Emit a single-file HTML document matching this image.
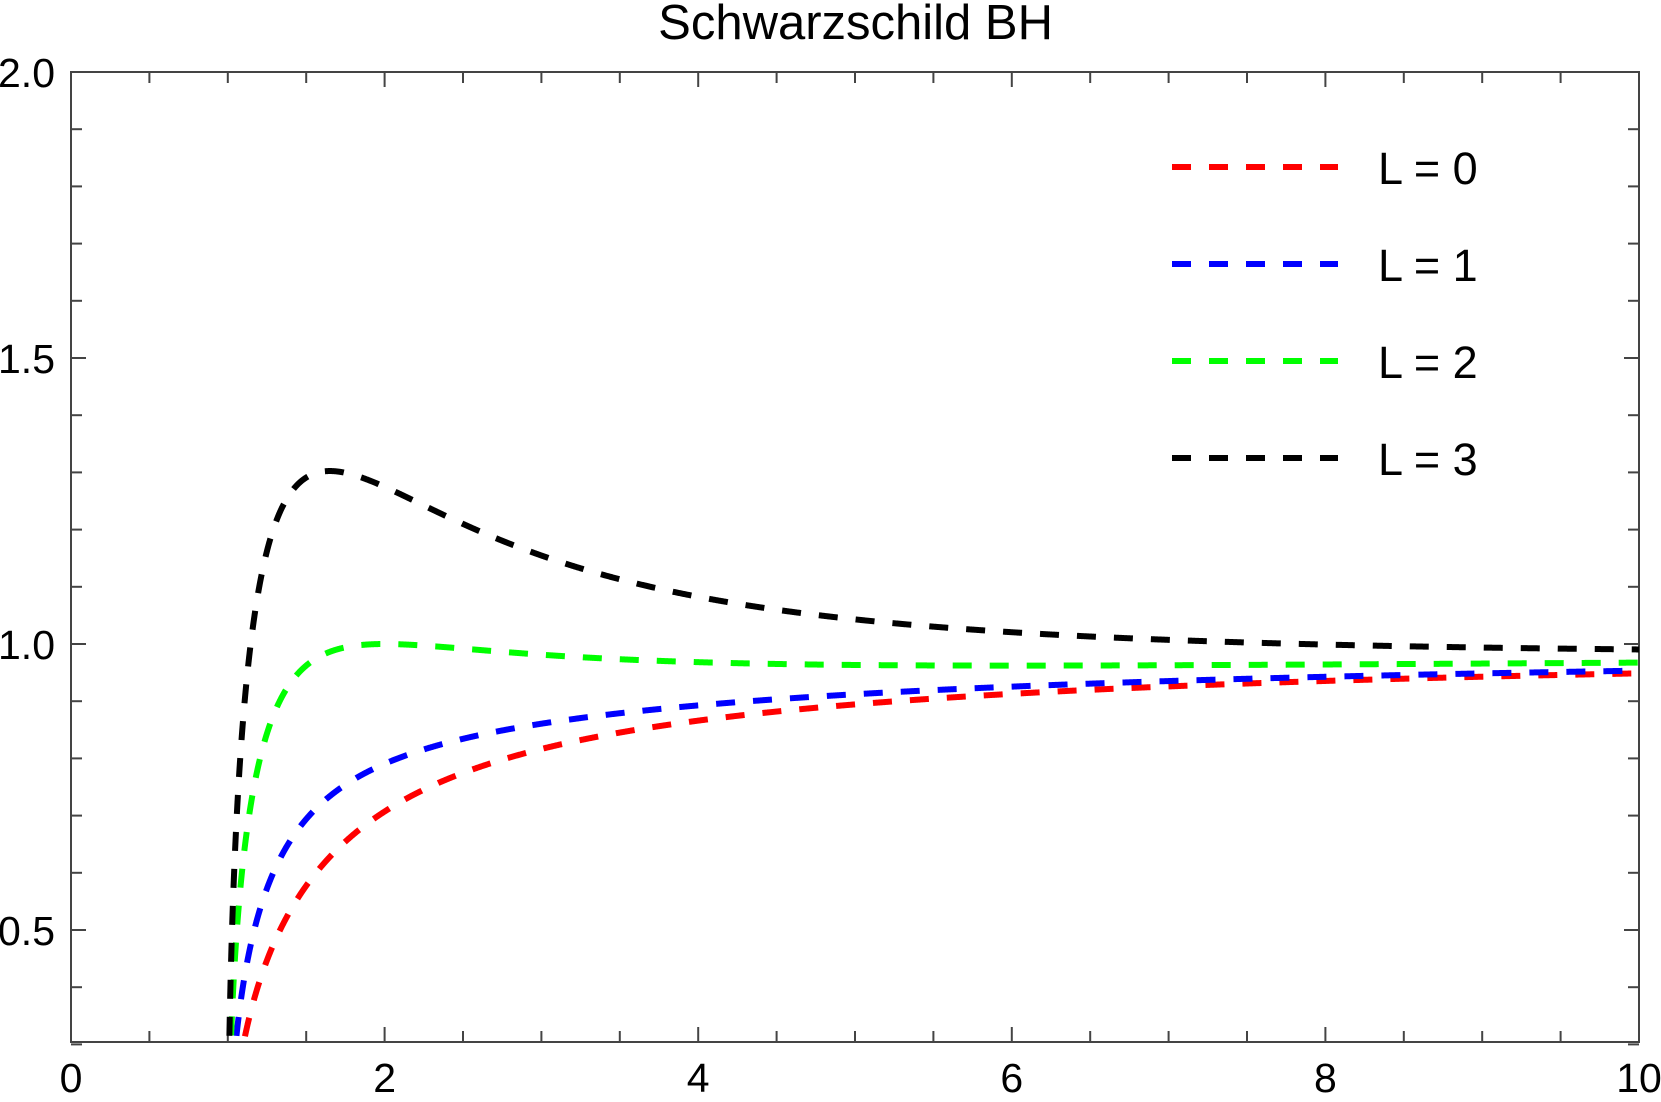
<!DOCTYPE html>
<html><head><meta charset="utf-8"><style>
html,body{margin:0;padding:0;background:#fff;}
svg text{font-family:"Liberation Sans",Arial,sans-serif;fill:#000;}
</style></head><body>
<svg id="s" width="1661" height="1097" xmlns="http://www.w3.org/2000/svg">
<defs><clipPath id="c"><rect x="71" y="72" width="1568" height="970"/></clipPath></defs>
<text x="1053" y="39" font-size="49" text-anchor="end">Schwarzschild BH</text>
<g id="ax" stroke="#444" stroke-width="2" fill="none"></g>
<g id="lab" font-size="41"></g>
<g id="curves" clip-path="url(#c)" fill="none" stroke-width="6" stroke-dasharray="19 18"></g>
<g stroke-width="6" stroke-dasharray="19 18">
<line x1="1172" y1="167" x2="1338" y2="167" stroke="#ff0000"/>
<line x1="1172" y1="264" x2="1338" y2="264" stroke="#0000ff"/>
<line x1="1172" y1="361" x2="1338" y2="361" stroke="#00ff00"/>
<line x1="1172" y1="458" x2="1338" y2="458" stroke="#000000"/>
</g>
<g font-size="45">
<text x="1378" y="184">L = 0</text>
<text x="1378" y="281">L = 1</text>
<text x="1378" y="378">L = 2</text>
<text x="1378" y="475">L = 3</text>
</g>
</svg>
<script>
var X0=71,X1=1639,Y0=72,Y1=1042;
function px(x){return X0+x*(X1-X0)/10;}
function py(v){return Y0+(2-v)*572;}
var ns="http://www.w3.org/2000/svg";
function el(p,t,a){var e=document.createElementNS(ns,t);for(var k in a)e.setAttribute(k,a[k]);p.appendChild(e);return e;}
var ax=document.getElementById('ax'),lab=document.getElementById('lab');
el(ax,'rect',{x:X0,y:Y0,width:X1-X0,height:Y1-Y0});
for(var i=0;i<=20;i++){var x=px(i*0.5),L=(i%4==0)?15:11;
 el(ax,'line',{x1:x,y1:Y1,x2:x,y2:Y1-L});el(ax,'line',{x1:x,y1:Y0,x2:x,y2:Y0+L});
 if(i%4==0){var t=el(lab,'text',{x:x,y:1092,'text-anchor':'middle'});t.textContent=String(i/2);}}
for(var j=3;j<=20;j++){var v=j/10,y=py(v),L=(j%5==0)?15:11;
 el(ax,'line',{x1:X0,y1:y,x2:X0+L,y2:y});el(ax,'line',{x1:X1,y1:y,x2:X1-L,y2:y});
 if(j%5==0){var t=el(lab,'text',{x:55,y:y+15,'text-anchor':'end'});t.textContent=v.toFixed(1);}}
var cols=['#ff0000','#0000ff','#00ff00','#000000'],cg=document.getElementById('curves');
for(var Lm=0;Lm<4;Lm++){var d='',first=true;
 for(var k=0;k<=3000;k++){var r=1.0+Math.pow(k/3000,2)*9.2;if(r>10.2)break;
  var V=Math.sqrt((1-1/r)*(1+Lm*Lm/(r*r)));if(V<0.25)continue;
  d+=(first?'M':'L')+px(r).toFixed(2)+','+py(V).toFixed(2);first=false;}
 el(cg,'path',{d:d,stroke:cols[Lm]});}
</script>
</body></html>
